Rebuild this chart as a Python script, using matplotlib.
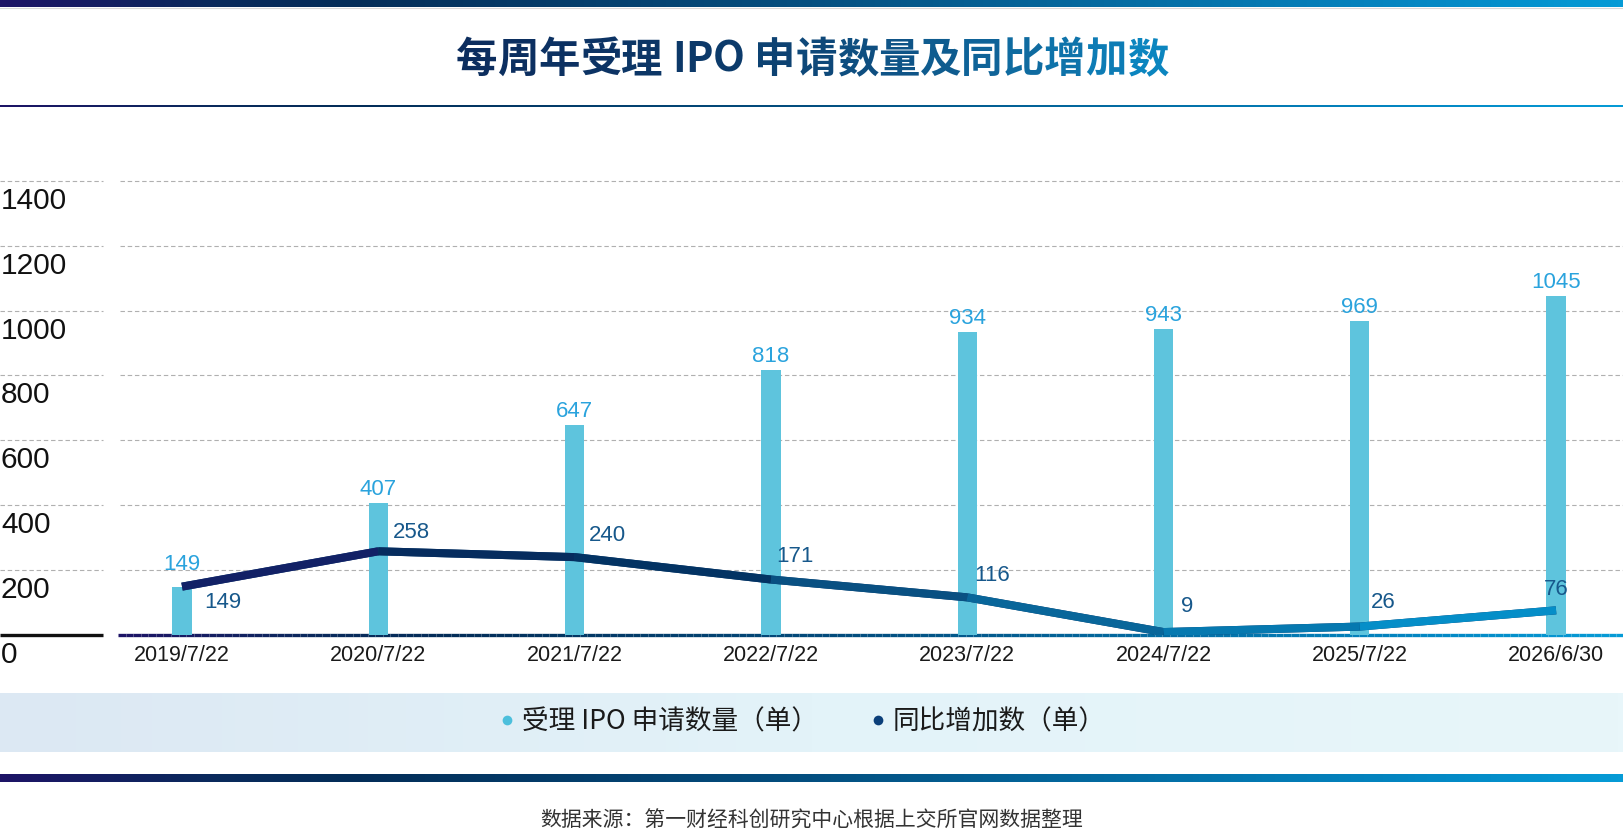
import numpy as np
import matplotlib
matplotlib.use("Agg")
import matplotlib.pyplot as plt
from matplotlib import transforms
from matplotlib.colors import LinearSegmentedColormap
from matplotlib.collections import LineCollection
from matplotlib.lines import Line2D

plt.rcParams['font.family'] = ['Noto Sans CJK SC', 'DejaVu Sans']

# data
dates = ['2019/7/22', '2020/7/22', '2021/7/22', '2022/7/22',
         '2023/7/22', '2024/7/22', '2025/7/22', '2026/6/30']
applications = [149, 407, 647, 818, 934, 943, 969, 1045]
yoy_increase = [149, 258, 240, 171, 116, 9, 26, 76]
y_ticks = [0, 200, 400, 600, 800, 1000, 1200, 1400]

title = '每周年受理 IPO 申请数量及同比增加数'
legend_labels = ['受理 IPO 申请数量（单）', '同比增加数（单）']
source = '数据来源：第一财经科创研究中心根据上交所官网数据整理'

# label offsets (pixels)
bar_label_pad = [12, 3, 3, 3, 3, 3, 3, 3]
line_label_offsets = [(41, -16), (33, 19), (33, 22), (24, 23),
                      (25, 22), (24, 26), (23, 24), (0, 21)]

W, H = 1624, 838
fig = plt.figure(figsize=(W / 100, H / 100), dpi=100)

stripe = LinearSegmentedColormap.from_list('stripe', [
    (0, '#1d1466'), (0.13, '#0a2a5c'), (0.22, '#032d58'),
    (0.5, '#034f80'), (0.88, '#0388c4'), (1, '#069bd6')])
line_cmap = LinearSegmentedColormap.from_list('line', [
    (0, '#1c1a6e'), (0.15, '#07295c'), (0.35, '#033262'),
    (0.55, '#0b5a8c'), (0.75, '#0673aa'), (1, '#0599d4')])
title_cmap = LinearSegmentedColormap.from_list('title', [
    (0, '#0c2d5e'), (0.35, '#0c3a6a'), (0.6, '#0f5588'),
    (0.8, '#0f6fa5'), (1, '#0a8dc9')])
band_cmap = LinearSegmentedColormap.from_list('band', ['#dce8f3', '#e3f3f9', '#e8f6fa'])

# background decorations in pixel coordinates
bg = fig.add_axes([0, 0, 1, 1], zorder=0)
grad = np.linspace(0, 1, 512).reshape(1, -1)
bg.imshow(grad, cmap=stripe, extent=[0, W, 7.5, 0], aspect='auto')
bg.imshow(grad, cmap=stripe, extent=[0, W, 107, 105], aspect='auto')
bg.imshow(grad, cmap=stripe, extent=[0, W, 782, 774], aspect='auto')
bg.imshow(grad, cmap=band_cmap, extent=[0, W, 752, 693], aspect='auto')
bg.plot([0, W], [8.5, 8.5], color='#d8d8d8', lw=0.8)

# main chart axes
ax = fig.add_axes([120 / W, (H - 635) / H, (W - 120) / W, 470.5 / H], zorder=2)
ax.set_xlim(-0.316, 7.346)
ax.set_ylim(0, 1450)
ax.patch.set_alpha(0)
for s in ax.spines.values():
    s.set_visible(False)
x = np.arange(len(dates))

blend = transforms.blended_transform_factory(bg.transData, ax.transData)

# gridlines
for v in y_ticks[1:]:
    ax.axhline(v, color='#b0b0b0', lw=0.8, dashes=(4, 2.5), zorder=0)
    bg.plot([0, 103], [v, v], transform=blend, color='#b0b0b0', lw=0.8,
            dashes=(4, 2.5), clip_on=False)

# baseline
bg.plot([0, 103], [0, 0], transform=blend, color='#111111', lw=2.4,
        solid_capstyle='butt', clip_on=False)
bx = np.linspace(118, W, 200)
bsegs = [[(bx[i], 0), (bx[i + 1], 0)] for i in range(len(bx) - 1)]
bcol = stripe(np.linspace(0, 1, len(bsegs)))
bg.add_collection(LineCollection(bsegs, colors=bcol, linewidths=2.4,
                                 transform=blend, clip_on=False, zorder=3),
                  autolim=False)

# bars
bars = ax.bar(x, applications, width=0.098, color='#5ec4dd', zorder=2)
for i, v in enumerate(applications):
    ax.annotate(str(v), (x[i], v), xytext=(0, bar_label_pad[i]),
                textcoords='offset pixels', ha='center', va='bottom',
                color='#2aa3dd', fontsize=16, family='Liberation Sans', zorder=5)

# line
ax.plot(x, yoy_increase, color='#0a3d70', lw=5.8, solid_joinstyle='round',
        solid_capstyle='butt', zorder=3)
pts = np.column_stack([x, yoy_increase])
segs = np.stack([pts[:-1], pts[1:]], axis=1)
seg_colors = line_cmap((np.arange(len(segs)) + 0.5) / len(segs))
ax.add_collection(LineCollection(segs, colors=seg_colors, linewidths=5.8,
                                 capstyle='butt', joinstyle='round', zorder=4))
for i, v in enumerate(yoy_increase):
    ax.annotate(str(v), (x[i], v), xytext=line_label_offsets[i],
                textcoords='offset pixels', ha='center', va='center',
                color='#17588b', fontsize=16, family='Liberation Sans', zorder=5)

# axes ticks
ax.set_xticks(x, dates)
ax.tick_params(axis='x', length=0, pad=7, labelsize=15.5, labelcolor='#1a1a1a')
for t in ax.get_xticklabels():
    t.set_family('Liberation Sans')
ax.set_yticks([])
y_off = transforms.ScaledTranslation(0, -20 / 100, fig.dpi_scale_trans)
for v in y_ticks:
    bg.text(1, v, str(v), transform=blend + y_off, ha='left', va='center',
            fontsize=21.5, family='Liberation Sans', color='#111111')

# legend
handles = [Line2D([], [], marker='o', ls='none', markersize=7,
                  markerfacecolor='#4cbfdc', markeredgewidth=0),
           Line2D([], [], marker='o', ls='none', markersize=7,
                  markerfacecolor='#0b3f7a', markeredgewidth=0)]
fig.legend(handles, legend_labels, loc='center', bbox_to_anchor=(803 / W, 1 - 722 / H),
           ncol=2, frameon=False, fontsize=19.2, handlelength=0.5,
           handletextpad=0.3, columnspacing=2.0, labelcolor='#1a1a1a')

# source
fig.text(0.5, 1 - 821 / H, source, ha='center', va='center', fontsize=15,
         color='#333333')

bg.set_xlim(0, W)
bg.set_ylim(H, 0)
bg.axis('off')

# title with left-to-right colour gradient, one character at a time
fig.canvas.draw()
renderer = fig.canvas.get_renderer()
tkw = dict(fontsize=29.8, fontweight='bold')
probe = fig.text(0, 0, '', **tkw)

def text_w(s):
    probe.set_text(s + '|')
    w = probe.get_window_extent(renderer).width
    probe.set_text('|')
    return w - probe.get_window_extent(renderer).width

total = text_w(title)
offsets = [text_w(title[:i]) for i in range(len(title))]
probe.remove()
left = W / 2 - total / 2
for i, ch in enumerate(title):
    if ch == ' ':
        continue
    frac = offsets[i] / total
    fig.text((left + offsets[i]) / W, 1 - 60 / H, ch, color=title_cmap(frac),
             ha='left', va='center', **tkw)

fig.savefig('out.png', dpi=100)
